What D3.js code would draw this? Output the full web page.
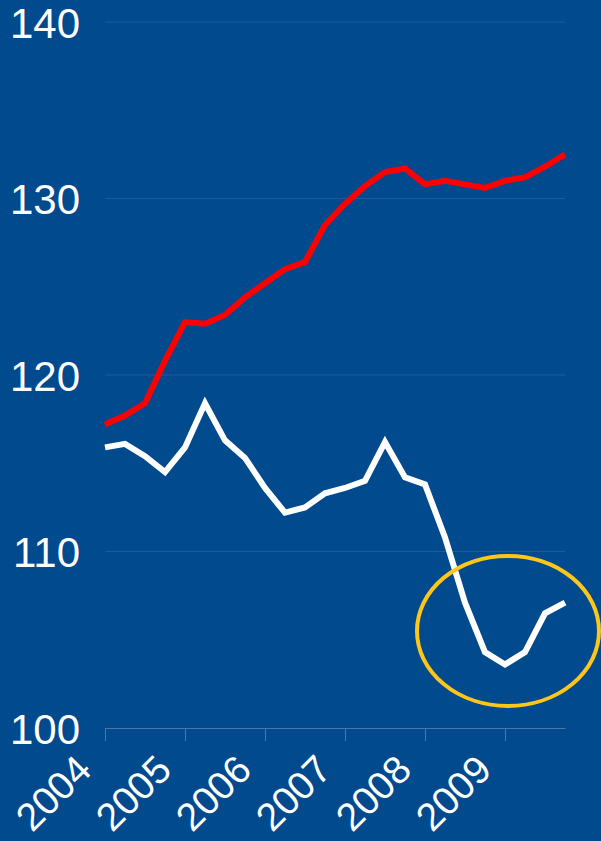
<!DOCTYPE html>
<html>
<head>
<meta charset="utf-8">
<script src="https://cdn.jsdelivr.net/npm/d3@7"></script>
<style>
  html, body { margin: 0; padding: 0; background: #024a8e; }
  svg { display: block; }
  text { font-family: "Liberation Sans", Arial, sans-serif; fill: #ffffff; }
</style>
</head>
<body>
<svg id="chart" width="601" height="841"></svg>
<script>
// Quarterly index series, 2004 Q1 – 2009 Q4
const quarters = [
  "2004Q1","2004Q2","2004Q3","2004Q4",
  "2005Q1","2005Q2","2005Q3","2005Q4",
  "2006Q1","2006Q2","2006Q3","2006Q4",
  "2007Q1","2007Q2","2007Q3","2007Q4",
  "2008Q1","2008Q2","2008Q3","2008Q4",
  "2009Q1","2009Q2","2009Q3","2009Q4"
];
const redSeries = [
  117.2, 117.7, 118.4, 120.8,
  123.0, 122.9, 123.4, 124.4,
  125.2, 126.0, 126.4, 128.5,
  129.7, 130.7, 131.5, 131.7,
  130.8, 131.0, 130.8, 130.6,
  131.0, 131.2, 131.8, 132.5
];
const whiteSeries = [
  115.9, 116.1, 115.4, 114.5,
  115.9, 118.4, 116.3, 115.3,
  113.6, 112.2, 112.5, 113.3,
  113.6, 114.0, 116.2, 114.2,
  113.8, 110.8, 107.1, 104.3,
  103.6, 104.3, 106.5, 107.1
];
const yearLabels = ["2004","2005","2006","2007","2008","2009"];
const yTicks = [100, 110, 120, 130, 140];

const svg = d3.select("#chart");
const W = 601, H = 841;
const plotLeft = 105, plotRight = 565, plotTop = 22, plotBottom = 728;

svg.append("rect").attr("width", W).attr("height", H).attr("fill", "#024a8e");

const x = d3.scalePoint().domain(quarters).range([plotLeft, plotRight]);
const y = d3.scaleLinear().domain([100, 140]).range([plotBottom, plotTop]);

// Horizontal gridlines
svg.append("g")
  .selectAll("line")
  .data(yTicks.filter(v => v > 100))
  .join("line")
  .attr("x1", plotLeft).attr("x2", plotRight)
  .attr("y1", d => y(d)).attr("y2", d => y(d))
  .attr("stroke", "#1f5a9b").attr("stroke-width", 1);

// Y axis labels
const yAxis = d3.axisLeft(y).tickValues(yTicks).tickSize(0).tickPadding(0);
const gy = svg.append("g").attr("transform", "translate(80,0)").call(yAxis);
gy.select(".domain").remove();
gy.selectAll("text")
  .attr("fill", "#ffffff")
  .style("font-size", "42px")
  .attr("dy", "0.36em");

// X axis: baseline with a tick at the start of each year
const yearStarts = yearLabels.map(yr => yr + "Q1");
const xAxis = d3.axisBottom(x).tickValues(yearStarts).tickSize(13).tickSizeOuter(0)
  .tickFormat(q => q.slice(0, 4));
const gx = svg.append("g").attr("transform", `translate(0,${plotBottom})`).call(xAxis);
gx.select(".domain").attr("stroke", "#4a76ad").attr("stroke-width", 1);
gx.selectAll(".tick line").attr("stroke", "#4a76ad").attr("stroke-width", 1);
gx.selectAll("text")
  .attr("fill", "#ffffff")
  .style("font-size", "39px")
  .attr("text-anchor", "end")
  .attr("y", 0).attr("dy", 0)
  .attr("transform", "translate(-12,44) rotate(-45)");

// Series lines
const line = d3.line().x((d, i) => x(quarters[i])).y(d => y(d));

svg.append("path")
  .datum(redSeries)
  .attr("d", line)
  .attr("fill", "none")
  .attr("stroke", "#ff0000")
  .attr("stroke-width", 6)
  .attr("stroke-linejoin", "miter");

svg.append("path")
  .datum(whiteSeries)
  .attr("d", line)
  .attr("fill", "none")
  .attr("stroke", "#ffffff")
  .attr("stroke-width", 6)
  .attr("stroke-linejoin", "miter");

// Highlight ring around the 2009 trough
svg.append("ellipse")
  .attr("cx", x("2009Q1") + 3)
  .attr("cy", y(105.5))
  .attr("rx", 91)
  .attr("ry", 75)
  .attr("fill", "none")
  .attr("stroke", "#ffc61a")
  .attr("stroke-width", 4);
</script>
</body>
</html>
